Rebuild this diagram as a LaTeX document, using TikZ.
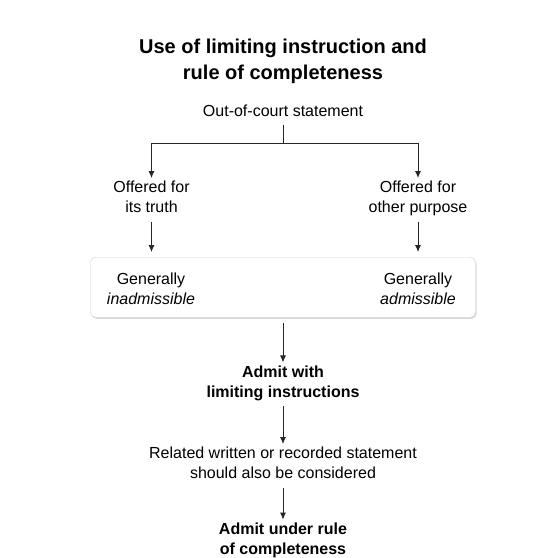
\documentclass[tikz,border=0pt]{standalone}
\usepackage{fontspec}
\setmainfont{Liberation Sans}
\usetikzlibrary{positioning}
\usetikzlibrary{shadows}
\usetikzlibrary{arrows.meta}

\begin{document}
\begin{tikzpicture}[x=1pt, y=-1pt,
            txt/.style={align=center, inner sep=0pt, outer sep=3pt,
            font=\fontsize{16}{20}\selectfont,
            execute at begin node=\strut, execute at end node=\strut},
            heading/.style={txt, font=\fontsize{20}{26}\selectfont\bfseries},
            verdict/.style={txt, font=\fontsize{16}{20}\selectfont\bfseries},
            panel/.style={draw=black!18, fill=white, rounded corners=5pt,
            minimum width=385pt, minimum height=60pt,
            drop shadow={shadow xshift=1pt, shadow yshift=-1.5pt, opacity=0.3}},
            flow/.style={line width=1pt, draw=black!85},
            >={Latex[length=7pt,width=6pt]}]
        \useasboundingbox (0,0) rectangle (533,558);
        \node[heading] (title) [anchor=north] at (283,35.8) {Use of limiting instruction and\\rule of completeness};
        \node[txt] (oos) [below=9pt of title] {Out-of-court statement};
        \coordinate[below=18pt of oos] (fork);
        \node[txt] (truth) [below=35pt of fork, xshift=-131.5pt] {Offered for\\its truth};
        \node[txt] (purpose) [below=35pt of fork, xshift=135pt] {Offered for\\other purpose};
        \node[panel] (panel) [below=114pt of fork] {};
        \node[txt] (inadm) [xshift=-132pt, yshift=-4pt] at (panel) {Generally\\\textit{inadmissible}};
        \node[txt] (adm) [xshift=135pt, yshift=-4pt] at (panel) {Generally\\\textit{admissible}};
        \node[verdict] (limit) [below=45pt of panel] {Admit with\\limiting instructions};
        \node[txt] (related) [below=38pt of limit] {Related written or recorded statement\\should also be considered};
        \node[verdict] (complete) [below=32pt of related] {Admit under rule\\of completeness};

        \draw[flow] (oos) -- (fork);
        \draw[flow, ->] (fork) -| (truth);
        \draw[flow, ->] (fork) -| (purpose);
        \draw[flow, ->, shorten >=5pt] (truth) -- (truth |- panel.north);
        \draw[flow, ->, shorten >=5pt] (purpose) -- (purpose |- panel.north);
        \draw[flow, ->, shorten <=6pt] (panel) -- (limit);
        \draw[flow, ->] (limit) -- (related);
        \draw[flow, ->] (related) -- (complete);
    \end{tikzpicture}
\end{document}
